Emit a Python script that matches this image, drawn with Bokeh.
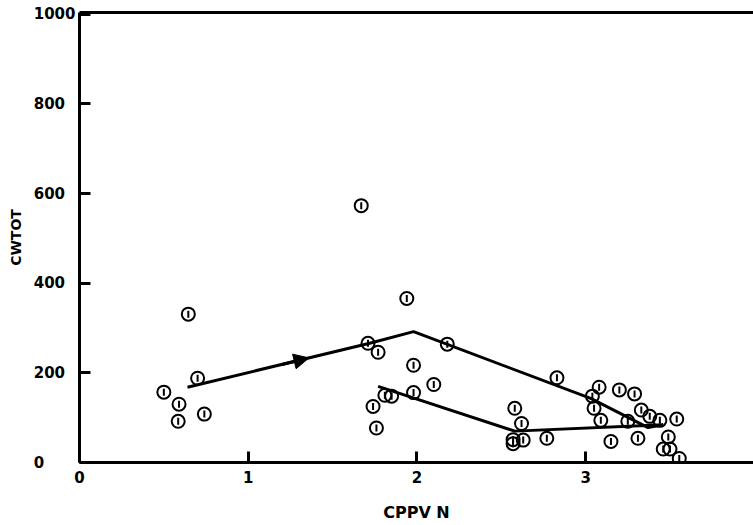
import numpy as np
from bokeh.plotting import figure
from bokeh.models import LinearAxis, FixedTicker, Range1d, Arrow, NormalHead
from bokeh.embed import file_html
from bokeh.resources import INLINE

# ---- data ----
x_ticks = [0, 1, 2, 3]
x_tick_labels = ["0", "1", "2", "3"]
y_ticks = [0, 200, 400, 600, 800, 1000]
y_tick_labels = ["0", "200", "400", "600", "800", "1000"]

cppv_n = [0.50, 0.59, 0.585, 0.74, 0.645, 0.70, 1.67, 1.71, 1.77, 1.74,
          1.76, 1.81, 1.85, 1.94, 1.98, 1.98, 2.10, 2.18, 2.83, 2.58,
          2.62, 2.57, 2.57, 2.63, 2.77, 3.08, 3.04, 3.05, 3.09, 3.20,
          3.29, 3.33, 3.38, 3.25, 3.44, 3.54, 3.15, 3.31, 3.49, 3.46,
          3.50, 3.555]
cwtot = [157, 130, 92, 108, 331, 188, 573, 266, 246, 125,
         77, 150, 148, 366, 217, 156, 174, 264, 189, 121,
         87, 51, 42, 50, 54, 168, 148, 121, 94, 162,
         153, 117, 103, 92, 94, 97, 47, 54, 57, 30,
         30, 9]

path_x = [0.64, 1.72, 1.98, 3.03, 3.37, 3.46, 2.58, 1.77]
path_y = [168, 266, 292, 143, 78, 84, 70, 170]
arrow_tip_x = 1.36
arrow_tail_x = 1.20

# ---- figure ----
p = figure(width=753, height=524,
           x_range=Range1d(0, 3.995), y_range=Range1d(0, 1004),
           output_backend="svg", toolbar_location=None,
           min_border_left=79, min_border_right=0,
           min_border_top=12, min_border_bottom=62)
p.grid.visible = False
p.outline_line_color = None
p.background_fill_color = "white"
p.border_fill_color = "white"

font = "DejaVu Sans"

xa = p.xaxis[0]
xa.ticker = FixedTicker(ticks=x_ticks)
xa.major_label_overrides = {t: l for t, l in zip(x_ticks, x_tick_labels)}
xa.axis_label = "CPPV N"
xa.axis_line_width = 3
xa.major_tick_in = 11
xa.major_tick_out = 0
xa.major_tick_line_width = 3
xa.minor_tick_line_color = None
xa.major_label_standoff = 8
xa.major_label_text_color = "black"
xa.major_label_text_font = font
xa.major_label_text_font_style = "bold"
xa.major_label_text_font_size = "15px"
xa.axis_label_text_color = "black"
xa.axis_label_text_font = font
xa.axis_label_text_font_style = "bold"
xa.axis_label_text_font_size = "16px"
xa.axis_label_standoff = 17

maxlen = max(len(s) for s in y_tick_labels)
ya = p.yaxis[0]
ya.ticker = FixedTicker(ticks=y_ticks)
ya.major_label_overrides = {t: l + "\u2007" * (maxlen - len(l))
                            for t, l in zip(y_ticks, y_tick_labels)}
ya.axis_label = "CWTOT"
ya.axis_line_width = 3
ya.major_tick_in = 11
ya.major_tick_out = 0
ya.major_tick_line_width = 3
ya.minor_tick_line_color = None
ya.major_label_standoff = 4
ya.major_label_text_color = "black"
ya.major_label_text_font = font
ya.major_label_text_font_style = "bold"
ya.major_label_text_font_size = "15px"
ya.axis_label_text_color = "black"
ya.axis_label_text_font = font
ya.axis_label_text_font_style = "bold"
ya.axis_label_text_font_size = "14px"
ya.axis_label_standoff = 7

top = LinearAxis(ticker=FixedTicker(ticks=[]), axis_line_width=3,
                 major_tick_in=0, major_tick_out=0,
                 minor_tick_in=0, minor_tick_out=0,
                 major_label_standoff=0, axis_label_standoff=0)
p.add_layout(top, "above")

# trajectory line
p.line(path_x, path_y, line_color="black", line_width=3)

# arrow head on the first segment
ay0 = float(np.interp(arrow_tail_x, path_x[:2], path_y[:2]))
ay1 = float(np.interp(arrow_tip_x, path_x[:2], path_y[:2]))
p.add_layout(Arrow(end=NormalHead(size=15, fill_color="black", line_color="black"),
                   x_start=arrow_tail_x, y_start=ay0, x_end=arrow_tip_x, y_end=ay1,
                   line_width=3, line_color="black"))

# points
p.scatter(cppv_n, cwtot, marker="circle", size=13, fill_color=None,
          line_color="black", line_width=2)
p.scatter(cppv_n, cwtot, marker="dash", angle=np.pi / 2, size=7,
          line_color="black", line_width=2)

open("out.html", "w").write(file_html(p, INLINE))
